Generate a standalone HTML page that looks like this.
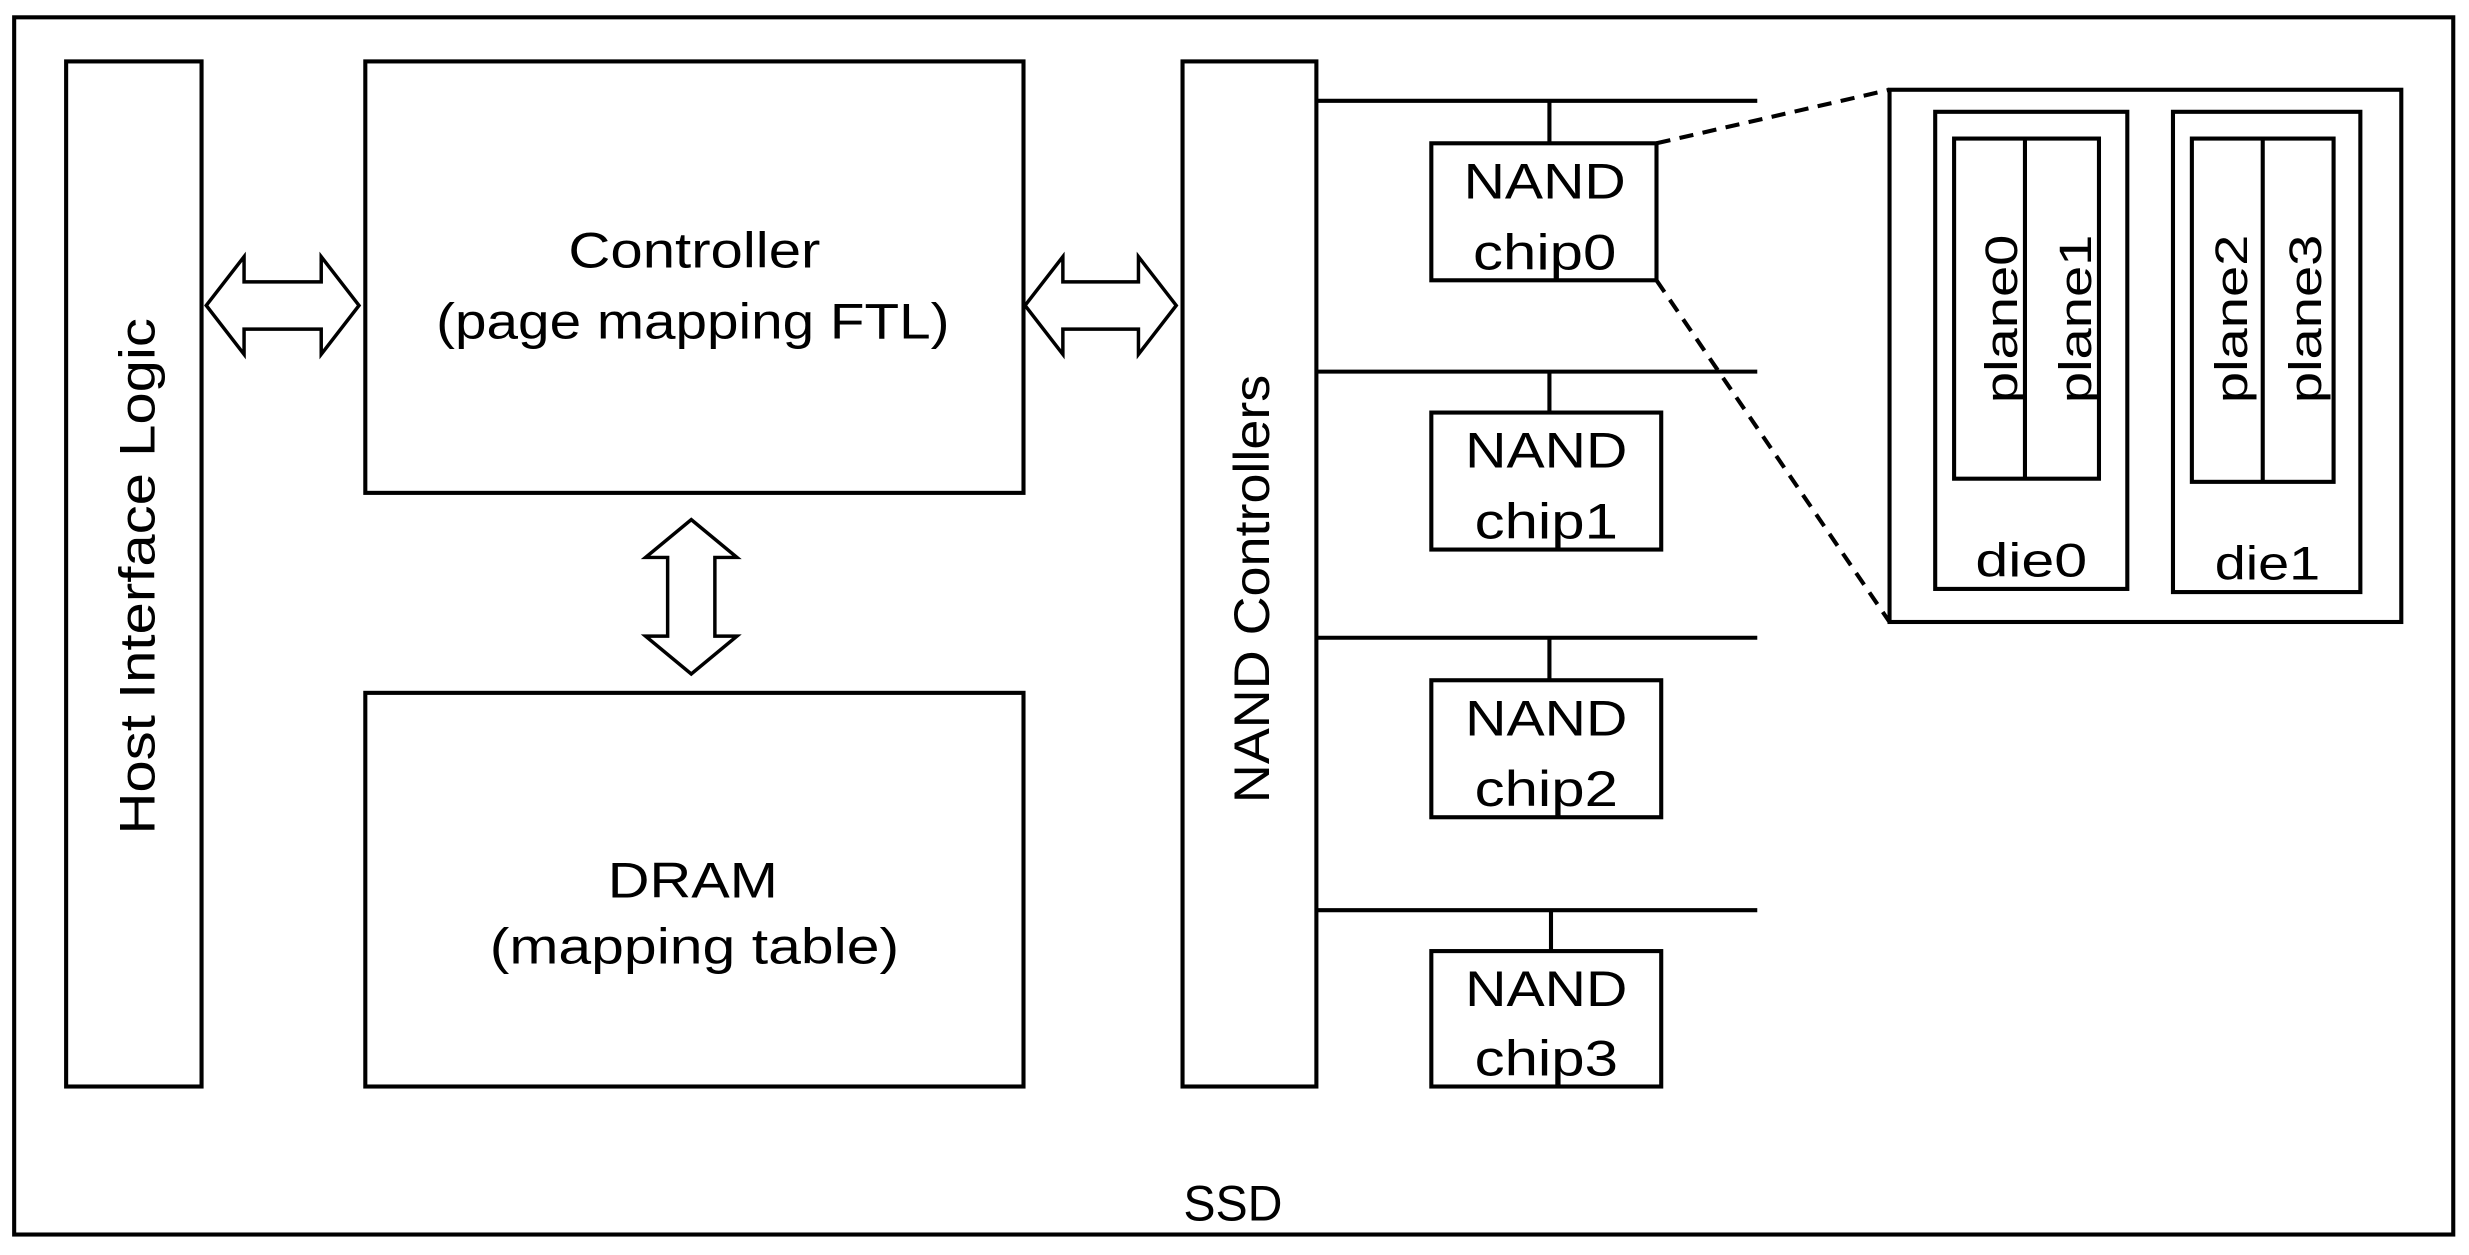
<!DOCTYPE html>
<html><head><style>html,body{margin:0;padding:0;background:#fff}svg{display:block}</style></head><body>
<svg width="2469" height="1255" viewBox="0 0 1568 797" preserveAspectRatio="none" xmlns="http://www.w3.org/2000/svg" font-family="'Liberation Sans', sans-serif" fill="none" stroke="#000" stroke-width="2.6">
<rect x="9" y="11" width="1549" height="773" fill="#fff"/>
<rect x="42" y="39" width="86" height="651"/>
<rect x="232" y="39" width="418" height="274"/>
<rect x="232" y="440" width="418" height="250"/>
<rect x="751" y="39" width="85" height="651"/>
<g>
<path d="M836 64H1116M836 236H1116M836 405H1116M836 578H1116M984 64V91M984 236V262M984 405V432M985 578V604"/>
<rect x="909" y="91" width="143" height="87"/>
<rect x="909" y="262" width="146" height="87"/>
<rect x="909" y="432" width="146" height="87"/>
<rect x="909" y="604" width="146" height="86"/>
</g>
<path d="M1052 91L1200 57M1052 178L1200 395" stroke-dasharray="9,6"/>
<rect x="1200" y="57" width="325" height="338"/>
<rect x="1229" y="71" width="122" height="303"/>
<rect x="1380" y="71" width="119" height="305"/>
<rect x="1241" y="88" width="92" height="216"/>
<path d="M1286 88V304"/>
<rect x="1392" y="88" width="90" height="218"/>
<path d="M1437 88V306"/>
<g stroke-width="2.2" fill="#fff">
<path d="M131 194L155 163V179H204V163L228 194L204 225V209H155V225Z"/>
<path d="M651 194L675 163V179H723V163L747 194L723 225V209H675V225Z"/>
<path d="M439 330L468 354H454V404H468L439 428L410 404H424V354H410Z"/>
</g>
<g fill="#000" stroke="none" font-size="32" text-anchor="middle" lengthAdjust="spacingAndGlyphs">
<text x="441" y="170" textLength="160" lengthAdjust="spacingAndGlyphs">Controller</text>
<text x="440" y="215" textLength="326" lengthAdjust="spacingAndGlyphs">(page mapping FTL)</text>
<text x="440" y="570" textLength="108" lengthAdjust="spacingAndGlyphs">DRAM</text>
<text x="441" y="612" textLength="260" lengthAdjust="spacingAndGlyphs">(mapping table)</text>
<text transform="translate(98,366) rotate(-90)" textLength="328" lengthAdjust="spacingAndGlyphs">Host Interface Logic</text>
<text transform="translate(806,374) rotate(-90)" textLength="272" lengthAdjust="spacingAndGlyphs">NAND Controllers</text>
<text x="783" y="775" textLength="63" lengthAdjust="spacingAndGlyphs">SSD</text>
<text x="981" y="126" textLength="103" lengthAdjust="spacingAndGlyphs">NAND</text><text x="981" y="171" textLength="91" lengthAdjust="spacingAndGlyphs">chip0</text>
<text x="982" y="297" textLength="103" lengthAdjust="spacingAndGlyphs">NAND</text><text x="982" y="342" textLength="91" lengthAdjust="spacingAndGlyphs">chip1</text>
<text x="982" y="467" textLength="103" lengthAdjust="spacingAndGlyphs">NAND</text><text x="982" y="512" textLength="91" lengthAdjust="spacingAndGlyphs">chip2</text>
<text x="982" y="639" textLength="103" lengthAdjust="spacingAndGlyphs">NAND</text><text x="982" y="683" textLength="91" lengthAdjust="spacingAndGlyphs">chip3</text>
<text x="1290" y="366" font-size="30" textLength="71" lengthAdjust="spacingAndGlyphs">die0</text>
<text x="1440" y="368" font-size="30" textLength="67" lengthAdjust="spacingAndGlyphs">die1</text>
<g font-size="29" text-anchor="start">
<text transform="translate(1281,256) rotate(-90)" textLength="107" lengthAdjust="spacingAndGlyphs">plane0</text>
<text transform="translate(1328,256) rotate(-90)" textLength="107" lengthAdjust="spacingAndGlyphs">plane1</text>
<text transform="translate(1427,256) rotate(-90)" textLength="107" lengthAdjust="spacingAndGlyphs">plane2</text>
<text transform="translate(1474,256) rotate(-90)" textLength="107" lengthAdjust="spacingAndGlyphs">plane3</text>
</g>
</g>
</svg>
</body></html>
